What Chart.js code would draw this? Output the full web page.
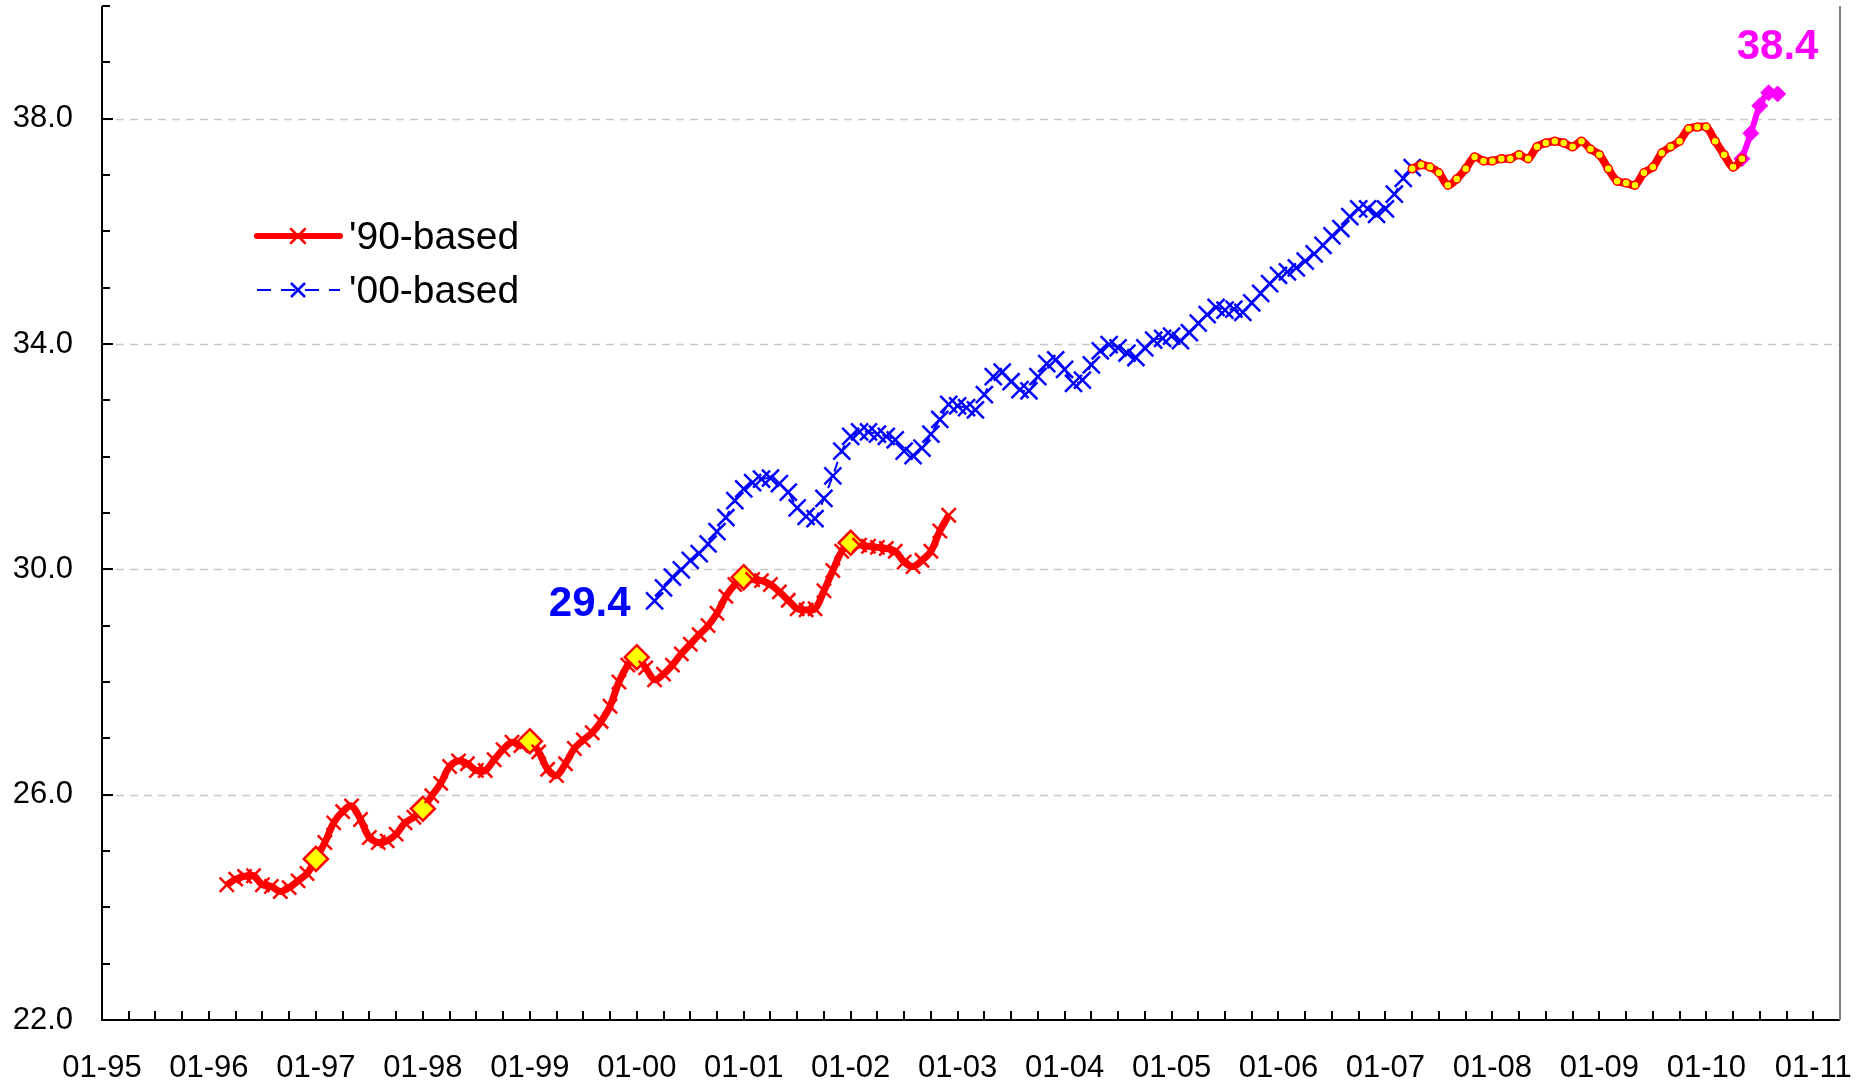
<!DOCTYPE html>
<html>
<head>
<meta charset="utf-8">
<script src="https://cdn.jsdelivr.net/npm/chart.js@4.4.0/dist/chart.umd.min.js"></script>
<style>
  html, body { margin: 0; padding: 0; background: #fff; }
  #wrap { width: 1871px; height: 1083px; }
</style>
</head>
<body>
<div id="wrap"><canvas id="indexChart"></canvas></div>
<script>
// monthly values, each series starts at the given month
const base90Start = "1996-03";
const base90Values = [
  24.40, 24.50, 24.55, 24.56, 24.40, 24.37, 24.28, 24.35, 24.47, 24.60,
  24.86, 25.15, 25.50, 25.70, 25.80, 25.56, 25.24, 25.15, 25.18, 25.30, 25.50, 25.60,
  25.75, 25.98, 26.20, 26.50, 26.60, 26.55, 26.43, 26.43, 26.62, 26.80, 26.93, 26.87,
  26.95, 26.76, 26.45, 26.34, 26.55, 26.82, 26.97, 27.10, 27.30, 27.57, 28.00, 28.30,
  28.44, 28.25, 28.04, 28.14, 28.30, 28.50, 28.67, 28.84, 29.00, 29.22, 29.52, 29.73,
  29.86, 29.82, 29.80, 29.73, 29.60, 29.45, 29.30, 29.28, 29.30, 29.62, 29.98, 30.32,
  30.47, 30.43, 30.41, 30.39, 30.37, 30.32, 30.13, 30.05, 30.16, 30.32, 30.68, 30.96
];
const base00Start = "2000-03";
const base00Values = [
  29.44, 29.67, 29.86, 29.99, 30.16, 30.28, 30.45, 30.67, 30.92, 31.22,
  31.43, 31.54, 31.60, 31.62, 31.52, 31.37, 31.09, 30.94, 30.90, 31.26, 31.66, 32.10,
  32.36, 32.44, 32.44, 32.40, 32.36, 32.30, 32.10, 32.02, 32.15, 32.40, 32.66, 32.93,
  32.90, 32.87, 32.83, 33.10, 33.42, 33.50, 33.33, 33.19, 33.17, 33.42, 33.65, 33.72,
  33.55, 33.30, 33.36, 33.63, 33.88, 33.99, 33.93, 33.84, 33.76, 33.93, 34.07, 34.10,
  34.14, 34.06, 34.20, 34.37, 34.52, 34.65, 34.60, 34.62, 34.56, 34.73, 34.90, 35.07,
  35.22, 35.28, 35.35, 35.47, 35.60, 35.75, 35.92, 36.05, 36.26, 36.40, 36.40, 36.30,
  36.40, 36.66, 36.94, 37.13
];
const recentStart = "2007-04";
const recentValues = [
  37.11, 37.18, 37.14, 37.04, 36.82, 36.93, 37.11, 37.32, 37.25,
  37.25, 37.29, 37.29, 37.36, 37.29, 37.50, 37.57, 37.60, 37.57, 37.50, 37.60, 37.46,
  37.36, 37.11, 36.89, 36.86, 36.82, 37.04, 37.14, 37.39, 37.50, 37.60, 37.82, 37.85,
  37.85, 37.60, 37.36, 37.14, 37.29
];
const latestStart = "2010-05";
const latestValues = [37.29, 37.74, 38.23, 38.46, 38.44];

const legendLabels = ["'90-based", "'00-based"];
const yLabelValues = [22, 26, 30, 34, 38];
const firstYear = 1995;

function monthIndex(s) {
  const [y, m] = s.split("-").map(Number);
  return (y - firstYear) * 12 + (m - 1);
}
function toPoints(start, values) {
  const m0 = monthIndex(start);
  return values.map((v, i) => ({ x: m0 + i, y: v }));
}

const FONT = "'Liberation Sans', Arial, sans-serif";
const RED = "#ff0000", BLUE = "#0000ff", MAGENTA = "#ff00ff", YELLOW = "#ffff00";

const isJan = (c) => c.raw && c.raw.x % 12 === 0;

// axes, ticks and grid drawn by hand so the ticks point inwards
const axesPlugin = {
  id: "axes",
  beforeDatasetsDraw(chart) {
    const { ctx, chartArea: a, scales: { x, y } } = chart;
    ctx.save();
    ctx.strokeStyle = "#c8c8c8";
    ctx.lineWidth = 1.5;
    ctx.setLineDash([8, 6]);
    for (const v of yLabelValues) {
      if (v === 22) continue;
      const py = Math.round(y.getPixelForValue(v)) + 0.5;
      ctx.beginPath(); ctx.moveTo(a.left, py); ctx.lineTo(a.right, py); ctx.stroke();
    }
    ctx.setLineDash([]);
    ctx.strokeStyle = "#000";
    ctx.lineWidth = 2;
    for (let v = 22; v <= 40; v++) {
      const py = Math.round(y.getPixelForValue(v));
      const len = (v - 22) % 4 === 0 ? 11 : 8;
      ctx.beginPath(); ctx.moveTo(a.left, py); ctx.lineTo(a.left + len, py); ctx.stroke();
    }
    for (let m = 0; m < x.max; m += 3) {
      const px = Math.round(x.getPixelForValue(m));
      ctx.beginPath(); ctx.moveTo(px, a.bottom); ctx.lineTo(px, a.bottom - 9); ctx.stroke();
    }
    ctx.beginPath(); ctx.moveTo(a.left, a.top); ctx.lineTo(a.left, a.bottom); ctx.lineTo(a.right, a.bottom); ctx.stroke();
    ctx.strokeStyle = "#808080";
    ctx.beginPath(); ctx.moveTo(a.right, a.top); ctx.lineTo(a.right, a.bottom); ctx.stroke();
    ctx.restore();
  },
  afterDatasetsDraw(chart) {
    const { ctx, scales: { x, y } } = chart;
    ctx.save();
    // legend
    const rows = [
      { label: legendLabels[0], color: RED, width: 6, dash: [], y: 236 },
      { label: legendLabels[1], color: BLUE, width: 2, dash: [14, 10], y: 290 }
    ];
    for (const r of rows) {
      ctx.strokeStyle = r.color;
      ctx.lineWidth = r.width;
      ctx.lineCap = r.dash.length ? "butt" : "round";
      ctx.setLineDash(r.dash);
      ctx.beginPath(); ctx.moveTo(257, r.y); ctx.lineTo(340, r.y); ctx.stroke();
      ctx.setLineDash([]);
      ctx.lineWidth = 2.5;
      ctx.beginPath();
      ctx.moveTo(291, r.y - 7); ctx.lineTo(305, r.y + 7);
      ctx.moveTo(305, r.y - 7); ctx.lineTo(291, r.y + 7);
      ctx.stroke();
      ctx.fillStyle = "#000";
      ctx.font = "39px " + FONT;
      ctx.textAlign = "left";
      ctx.textBaseline = "middle";
      ctx.fillText(r.label, 349, r.y + 2);
    }
    // value callouts at the start of the '00 series and the end of the latest series
    const p0 = { x: monthIndex(base00Start), y: base00Values[0] };
    ctx.font = "bold 42px " + FONT;
    ctx.fillStyle = BLUE;
    ctx.textAlign = "right";
    ctx.textBaseline = "middle";
    ctx.fillText(p0.y.toFixed(1), x.getPixelForValue(p0.x) - 24, y.getPixelForValue(p0.y) + 4);
    const pl = { x: monthIndex(latestStart) + latestValues.length - 1, y: latestValues[latestValues.length - 1] };
    ctx.fillStyle = MAGENTA;
    ctx.textAlign = "center";
    ctx.textBaseline = "alphabetic";
    ctx.fillText(pl.y.toFixed(1), x.getPixelForValue(pl.x), y.getPixelForValue(pl.y) - 35);
    ctx.restore();
  }
};

const ctx = document.getElementById("indexChart").getContext("2d");
const chart = new Chart(ctx, {
  type: "line",
  data: {
    datasets: [
      {
        label: "recent",
        data: toPoints(recentStart, recentValues),
        borderColor: RED,
        borderWidth: 8,
        tension: 0.35,
        pointStyle: "circle",
        pointRadius: 4,
        pointBackgroundColor: YELLOW,
        pointBorderColor: RED,
        pointBorderWidth: 1.5
      },
      {
        label: "latest",
        data: toPoints(latestStart, latestValues),
        borderColor: MAGENTA,
        borderWidth: 6,
        tension: 0.3,
        pointStyle: "rectRot",
        pointRadius: 8,
        pointBackgroundColor: MAGENTA,
        pointBorderColor: MAGENTA,
        pointBorderWidth: 1
      },
      {
        label: legendLabels[0],
        data: toPoints(base90Start, base90Values),
        borderColor: RED,
        borderWidth: 7,
        tension: 0.35,
        pointStyle: (c) => isJan(c) ? "rectRot" : "crossRot",
        pointRadius: (c) => isJan(c) ? 12 : 10,
        pointBackgroundColor: YELLOW,
        pointBorderColor: RED,
        pointBorderWidth: 2.5
      },
      {
        label: legendLabels[1],
        data: toPoints(base00Start, base00Values),
        borderColor: BLUE,
        borderWidth: 2,
        borderDash: [10, 8],
        tension: 0.3,
        pointStyle: "crossRot",
        pointRadius: 12,
        pointBorderColor: BLUE,
        pointBorderWidth: 2.5
      }
    ]
  },
  options: {
    responsive: true,
    maintainAspectRatio: false,
    animation: false,
    layout: { autoPadding: false, padding: { top: 6, right: 31, left: 0, bottom: 0 } },
    plugins: { legend: { display: false }, tooltip: { enabled: false } },
    scales: {
      x: {
        type: "linear",
        min: 0,
        max: 195,
        grid: { display: false, drawTicks: false },
        border: { display: false },
        afterFit: (s) => { s.height = 63; s.paddingLeft = 0; s.paddingRight = 0; },
        ticks: {
          stepSize: 3,
          autoSkip: false,
          maxRotation: 0,
          padding: 30,
          color: "#000",
          font: { family: FONT, size: 31 },
          callback: (v) => v % 12 === 0 ? "01-" + String((firstYear + v / 12) % 100).padStart(2, "0") : ""
        }
      },
      y: {
        min: 22,
        max: 40,
        grid: { display: false, drawTicks: false },
        border: { display: false },
        afterFit: (s) => { s.width = 102; s.paddingTop = 0; s.paddingBottom = 0; },
        ticks: {
          stepSize: 1,
          autoSkip: false,
          padding: 29,
          color: "#000",
          font: { family: FONT, size: 31 },
          callback: (v) => yLabelValues.includes(v) ? v.toFixed(1) : ""
        }
      }
    }
  },
  plugins: [axesPlugin]
});
</script>
</body>
</html>
